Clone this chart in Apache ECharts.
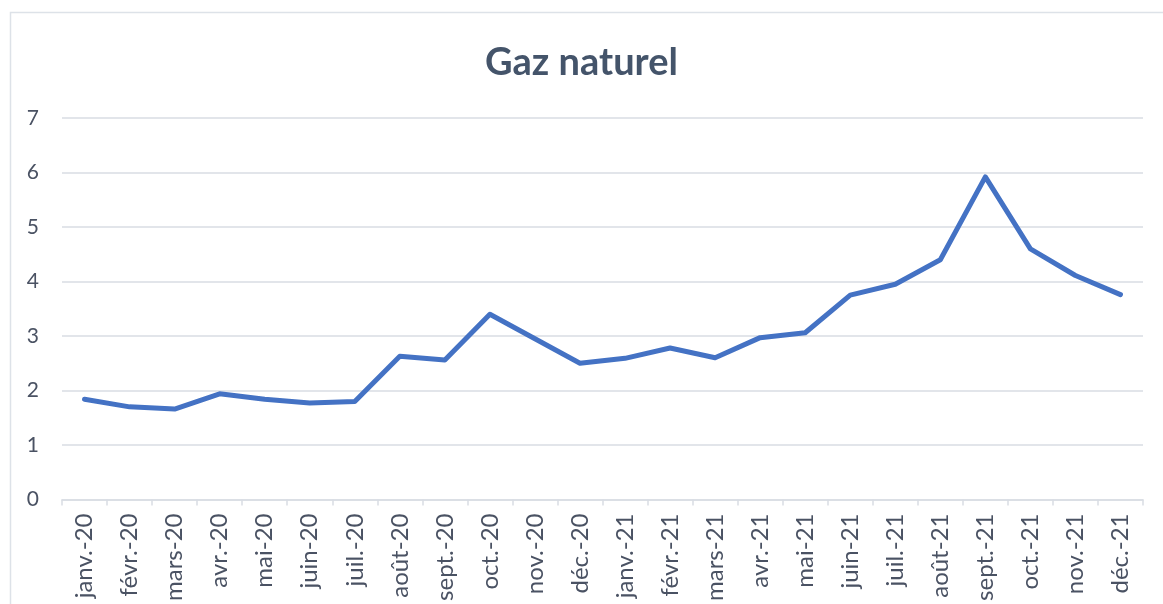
<!DOCTYPE html>
<html>
<head>
<meta charset="utf-8">
<script src="https://cdn.jsdelivr.net/npm/echarts@6/dist/echarts.min.js"></script>
<style>
  html, body { margin: 0; padding: 0; background: #fff; }
  #chart { width: 1163px; height: 604px; }
</style>
</head>
<body>
<div id="chart"></div>
<script>
let months = [
  "janv.-20", "févr.-20", "mars-20", "avr.-20", "mai-20", "juin-20",
  "juil.-20", "août-20", "sept.-20", "oct.-20", "nov.-20", "déc.-20",
  "janv.-21", "févr.-21", "mars-21", "avr.-21", "mai-21", "juin-21",
  "juil.-21", "août-21", "sept.-21", "oct.-21", "nov.-21", "déc.-21"
];

let gasValues = [
  1.84, 1.70, 1.66, 1.94, 1.84, 1.77,
  1.80, 2.63, 2.56, 3.40, 2.95, 2.50,
  2.59, 2.78, 2.60, 2.97, 3.06, 3.75,
  3.95, 4.40, 5.92, 4.60, 4.11, 3.76
];

let chartTitle = "Gaz naturel";

let textColor = "#4A5263";
let gridColor = "#D9DDE3";

var myChart = echarts.init(document.getElementById("chart"));
myChart.setOption({
  animation: false,
  graphic: [
    {
      type: "rect",
      shape: { x: 10.5, y: 12.5, width: 1170, height: 610 },
      style: { fill: "none", stroke: "#DDE2E8", lineWidth: 1.5 },
      silent: true
    }
  ],
  title: {
    text: chartTitle,
    left: "center",
    top: 39,
    textStyle: {
      fontFamily: "Lato",
      fontWeight: "bold",
      fontSize: 38,
      color: "#44546A"
    }
  },
  grid: {
    left: 62,
    right: 20,
    top: 118,
    bottom: 103,
    containLabel: false
  },
  xAxis: {
    type: "category",
    data: months,
    boundaryGap: true,
    axisLine: { show: true, lineStyle: { color: gridColor, width: 1.5 } },
    axisTick: { show: true, length: 6, lineStyle: { color: gridColor, width: 1.5 } },
    axisLabel: {
      rotate: 90,
      interval: 0,
      margin: 14,
      fontFamily: "Lato",
      fontSize: 24,
      color: textColor
    }
  },
  yAxis: {
    type: "value",
    min: 0,
    max: 7,
    interval: 1,
    axisLine: { show: false },
    axisTick: { show: false },
    splitLine: { lineStyle: { color: gridColor, width: 1.5 } },
    axisLabel: {
      margin: 23,
      fontFamily: "Lato",
      fontSize: 21,
      color: textColor
    }
  },
  series: [
    {
      type: "line",
      data: gasValues,
      symbol: "none",
      lineStyle: { color: "#4472C4", width: 5, cap: "round", join: "round" }
    }
  ]
});
</script>
</body>
</html>
